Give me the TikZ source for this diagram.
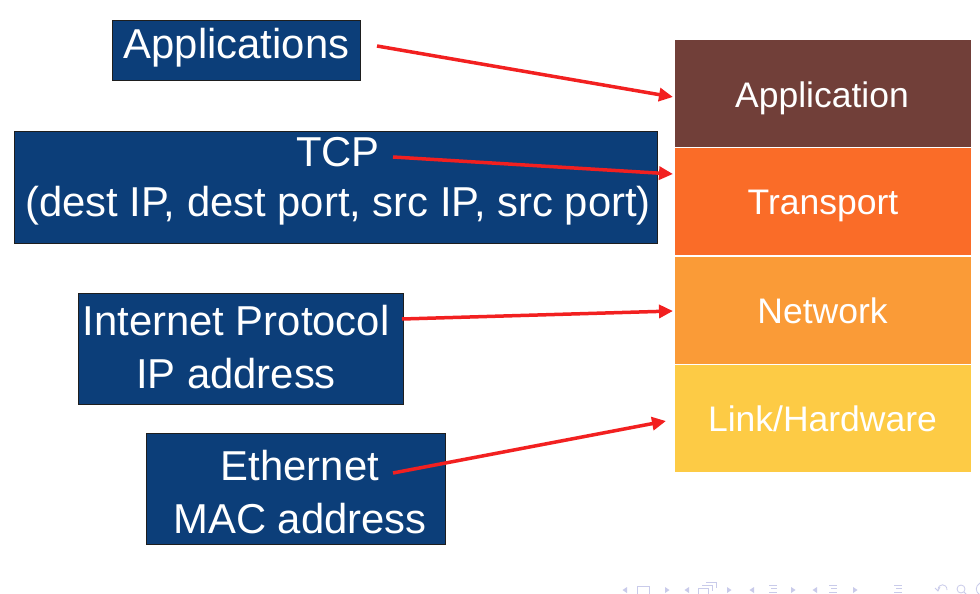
\documentclass[tikz,border=0pt]{standalone}
\usepackage{fontspec}
\setmainfont{Liberation Sans}
\usetikzlibrary{arrows.meta}
\definecolor{boxblue}{HTML}{0C3E79}
\definecolor{boxedge}{HTML}{1E1E1E}
\definecolor{appcol}{HTML}{713F39}
\definecolor{transcol}{HTML}{FA6C28}
\definecolor{netcol}{HTML}{FA9B37}
\definecolor{linkcol}{HTML}{FDCB45}
\definecolor{arrowred}{HTML}{F22020}
\definecolor{navcol}{HTML}{C9CBEA}
\begin{document}
\begin{tikzpicture}[x=1pt,y=-1pt,
  bluebox/.style={draw=boxedge, line width=1pt, fill=boxblue, inner sep=0pt},
  layerbox/.style={draw=white, line width=1pt, inner sep=0pt, minimum width=297pt, minimum height=108pt},
  boxtext/.style={text=white, font=\fontsize{41.8}{48}\selectfont, anchor=base, inner sep=0pt},
  layertext/.style={text=white, font=\fontsize{35.5}{40}\selectfont, anchor=base, inner sep=0pt},
  redarrow/.style={draw=arrowred, line width=3.5pt, -{Triangle[length=14pt,width=13pt]}},
  navtri/.style={fill=navcol},
  navline/.style={draw=navcol, line width=0.8pt}]
\useasboundingbox (0,0) rectangle (980,594);
\fill[white] (0,0) rectangle (980,594);

% protocol stack
\node[layerbox, fill=appcol]   (app)  at (822.5,94)   {};
\node[layerbox, fill=transcol] (trans) at (822.5,201.5) {};
\node[layerbox, fill=netcol]   (net)  at (822.5,310)  {};
\node[layerbox, fill=linkcol]  (link) at (822.5,418)  {};
\node[layertext] (appt)   at (822,107) {Application};
\node[layertext] (transt) at (823,214) {Transport};
\node[layertext] (nett)   at (822.5,323) {Network};
\node[layertext] (linkt)  at (822.5,431) {Link/Hardware};

% blue boxes
\node[bluebox, minimum width=248pt, minimum height=60pt]  (appsbox) at (236,51) {};
\node[bluebox, minimum width=643pt, minimum height=112pt] (tcpbox)  at (335.5,187) {};
\node[bluebox, minimum width=325pt, minimum height=111pt] (ipbox)   at (240.5,348.5) {};
\node[bluebox, minimum width=299pt, minimum height=111pt] (ethbox)  at (295.5,488.5) {};

\node[boxtext] (appsl)  at (236.5,59) {Applications};
\node[boxtext] (tcpl1)  at (338,166) {TCP};
\node[boxtext] (tcpl2)  at (338,216) {(dest IP, dest port, src IP, src port)};
\node[boxtext] (ipl1)   at (236,335) {Internet Protocol};
\node[boxtext] (ipl2)   at (236,388) {IP address};
\node[boxtext] (ethl1)  at (300,480) {Ethernet};
\node[boxtext] (ethl2)  at (300,533) {MAC address};

% arrow end points
\coordinate (a1s) at (377,46);  \coordinate (a1e) at (673,97);
\coordinate (a2s) at (393,157); \coordinate (a2e) at (673,174);
\coordinate (a3s) at (402,319); \coordinate (a3e) at (673,311);
\coordinate (a4s) at (393,473); \coordinate (a4e) at (666,421);
\draw[redarrow] (a1s) -- (a1e);
\draw[redarrow] (a2s) -- (a2e);
\draw[redarrow] (a3s) -- (a3e);
\draw[redarrow] (a4s) -- (a4e);

% navigation symbols
\foreach \x in {625,687,752,815} {\fill[navtri] (\x+2,587) -- (\x-2.5,590) -- (\x+2,593) -- cycle;}
\foreach \x in {667,729,793,855} {\fill[navtri] (\x-2,587) -- (\x+2.5,590) -- (\x-2,593) -- cycle;}
\draw[navline] (637,586) rectangle (649,594);
\draw[navline] (698,588) rectangle (708,594);
\draw[navline] (702,585) -- (712,585) -- (712,591);
\draw[navline] (706,582) -- (716,582) -- (716,588);
\foreach \x in {773,833,898} {
  \draw[navline] (\x-4,585) -- (\x+4,585);
  \draw[navline] (\x-2,588.5) -- (\x+4,588.5);
  \draw[navline] (\x-4,592) -- (\x+4,592);
}
\draw[navline] (938,590) .. controls (938,583) and (947,583) .. (947,590);
\draw[navline] (935,588) -- (938,591) -- (940,587);
\draw[navline] (961,589) circle (4);
\draw[navline] (964,592) -- (967,595);
\draw[navline] (980,583) .. controls (975,586) and (975,592) .. (980,595);
\end{tikzpicture}
\end{document}
